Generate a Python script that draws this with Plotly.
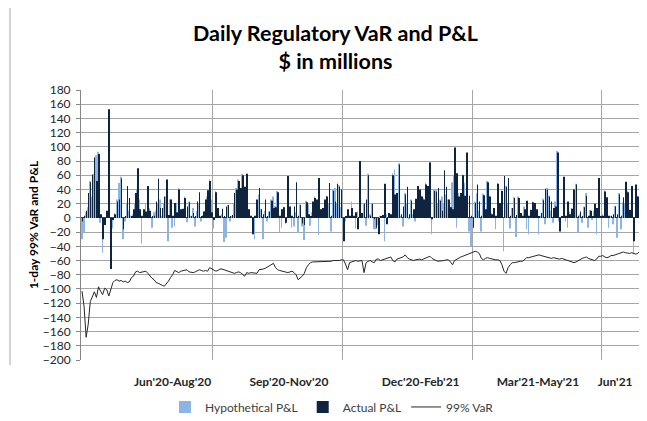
import plotly.graph_objects as go

# Daily values ($ millions), one entry per trading day
hypothetical_pl = [
    -30, -20, 8, 15, 52, 30, 62, 88, 93, -7,
    -49, -5, 10, 89, -8, -15, 7, 26, 49, 58,
    -30, -5, 20, 10, 3, 5, 20, 40, 26, -36,
    5, 21, 45, 14, -14, 8, 10, 20, 26, 3,
    20, 30, -33, 26, -14, -12, 21, 42, 5, 3,
    30, -6, 23, 3, 14, -12, 10, 20, -5, 4,
    10, 30, 54, 26, -15, 38, 5, 2, 5, -34,
    -28, 18, -5, 3, 20, 42, 54, 30, 62, 30,
    40, 12, 2, -10, -30, 20, 33, 12, -30, 10,
    -5, 9, 26, 30, 17, 38, -21, -14, 16, -9,
    10, 5, -14, -12, 8, -21, 19, -12, -31, 24,
    19, -11, 8, 30, 10, -24, 12, 5, 10, 31,
    20, -19, 40, 42, 20, 46, 15, -7, -5, 3,
    2, 23, 2, -15, 9, 10, 3, 21, -11, 62,
    5, 21, -16, -16, -10, 3, 2, -33, 5, 7,
    3, 63, 68, 20, 77, 3, -12, 35, 20, -2,
    26, 5, -5, 23, 20, 31, 28, 49, 20, 80,
    -23, 40, 39, 20, 26, 30, 20, 33, 26, 16,
    50, 60, -14, 35, 30, 61, 49, 40, -19, -40,
    -5, 23, 35, 10, -19, 34, 5, 52, 31, 7,
    8, -16, 49, 10, 40, -47, 45, 20, -15, 14,
    29, -27, 30, 3, 2, 16, -16, -23, 12, 23,
    10, 5, -23, 3, 27, -9, 42, 31, 10, -7,
    23, 94, -5, 3, 20, -5, -14, 9, 14, 41,
    48, -21, 5, -7, 16, 35, -14, 11, -3, 10,
    -23, 20, 3, 5, 39, 15, -14, 2, -9, 17,
    -28, 35, -16, 22, 20, 38, 12, 20, -50, 20,
    31, -12, -11, 26,
]

actual_pl = [
    -5, 3, 10, 35, 50, 61, 85, 52, 90, 5,
    -30, -10, 10, 153, -72, -3, 5, 23, 26, 55,
    -16, 2, 45, 28, 2, 12, 35, 70, 12, 3,
    12, 9, 45, 10, 2, 3, 23, 55, 14, 14,
    30, 54, 4, 26, 3, 21, 8, 40, 12, 13,
    28, 16, 22, 2, 7, 2, 23, 36, 2, 9,
    26, 39, 52, 8, -3, 36, 14, 3, 13, 2,
    16, 18, 2, 4, 35, 40, 52, 42, 60, 44,
    62, 12, 3, -23, 3, 26, 42, 12, 5, 26,
    2, 9, 24, 14, 15, 36, 3, 12, 15, -7,
    59, 16, 3, 16, 50, 3, 18, -8, -10, 22,
    5, 2, 23, 28, 26, 56, 12, 14, 26, 30,
    49, 3, 38, 23, 48, 44, 40, -33, 2, 12,
    3, 14, 3, 8, -16, 80, 7, 20, 26, 60,
    3, 20, -2, -14, -23, 2, 4, 48, -9, 7,
    5, 60, 33, 35, 75, 5, 16, 33, 44, 5,
    24, 12, 27, 45, 40, 30, 26, 47, 45, 78,
    -2, 38, 37, 42, 24, 10, 67, 44, 26, 15,
    12, 99, 63, 30, 35, 60, 31, 92, 31, 3,
    -14, 21, 47, 23, 3, 32, 12, 50, 30, 5,
    14, 3, 48, 21, 38, 59, 44, 56, 3, 14,
    28, 4, 28, 7, 3, 12, 24, 3, 11, 22,
    21, 12, 2, 7, 25, 41, 40, 30, 23, 14,
    16, 92, -19, 2, 58, 3, 23, 5, 13, 40,
    47, 3, 9, 2, 15, 31, 3, 10, 2, 20,
    14, 56, 2, 3, 37, 29, 3, 3, 5, 16,
    5, 33, 3, 29, 51, 36, 11, 45, -33, 47,
    30, 21, 3, 26,
]

var_99 = [
    -103, -125, -168, -150, -118, -110, -104, -112, -97, -103,
    -108, -99, -101, -110, -101, -91, -88, -87, -89, -88,
    -90, -89, -91, -90, -84, -82, -76, -75, -77, -76,
    -75, -75, -78, -82, -85, -87, -91, -92, -94, -95,
    -96, -93, -89, -84, -80, -74, -75, -77, -75, -74,
    -73, -73, -76, -77, -77, -76, -75, -73, -74, -75,
    -74, -75, -70, -72, -73, -75, -74, -72, -72, -73,
    -74, -75, -76, -77, -78, -77, -76, -77, -79, -82,
    -77, -78, -77, -77, -78, -78, -73, -73, -72, -71,
    -69, -68, -66, -64, -70, -73, -74, -75, -76, -77,
    -77, -76, -75, -77, -80, -87, -85, -82, -78, -70,
    -66, -63, -62, -62, -61, -62, -61, -62, -62, -61,
    -61, -61, -60, -60, -61, -60, -59, -59, -65, -73,
    -63, -62, -60, -60, -61, -60, -60, -77, -63, -61,
    -60, -62, -63, -58, -58, -60, -59, -57, -56, -55,
    -55, -60, -62, -58, -57, -56, -55, -52, -56, -58,
    -59, -60, -59, -58, -58, -59, -58, -56, -55, -54,
    -57, -59, -60, -61, -61, -60, -60, -59, -59, -62,
    -66, -60, -58, -56, -55, -54, -53, -52, -51, -49,
    -48, -47, -48, -50, -57, -59, -57, -56, -57, -58,
    -58, -59, -59, -60, -66, -75, -78, -70, -66, -63,
    -63, -62, -62, -61, -61, -58, -56, -56, -55, -55,
    -54, -53, -52, -53, -54, -55, -56, -56, -57, -56,
    -57, -57, -58, -57, -58, -60, -61, -62, -62, -63,
    -62, -60, -59, -57, -56, -55, -57, -58, -59, -60,
    -58, -54, -54, -53, -55, -56, -55, -53, -53, -52,
    -52, -51, -50, -48, -49, -50, -50, -49, -50, -51,
    -50, -47, -46, -45,
]

period_labels = ["Jun'20-Aug'20", "Sep'20-Nov'20", "Dec'20-Feb'21", "Mar'21-May'21", "Jun'21"]
period_label_days = [44, 100.5, 164.5, 221.5, 259]
period_boundary_days = [63.5, 126.5, 189.5, 252.5]
y_ticks = list(range(-200, 181, 20))
title_text = "Daily Regulatory VaR and P&L<br>$ in millions"

days = list(range(len(hypothetical_pl)))
FONT = "Lato"
GRID = "#a6a6a6"

fig = go.Figure()
fig.add_trace(go.Bar(x=days, y=hypothetical_pl, name="Hypothetical P&L",
                     marker=dict(color="#8db4e2", line=dict(width=0))))
fig.add_trace(go.Bar(x=days, y=actual_pl, name="Actual P&L",
                     marker=dict(color="#0f243e", line=dict(width=0))))
fig.add_trace(go.Scatter(x=days, y=var_99, name="99% VaR", mode="lines",
                         xaxis="x2", line=dict(color="#262626", width=1)))

fig.add_annotation(text="<b>" + title_text + "</b>", xref="paper", yref="paper",
                   x=0.4504, y=1.158, xanchor="center", yanchor="middle",
                   showarrow=False, align="center",
                   font=dict(family=FONT, size=21.5, color="#000000"))

# thin frame line at the left edge of the page
fig.add_shape(type="line", xref="paper", yref="paper",
              x0=-0.1259, x1=-0.1259, y0=-0.0185, y1=1.31,
              line=dict(color="#a6a6a6", width=1))

xr = [-0.5, len(days) - 0.5]
fig.update_layout(
    width=639, height=413,
    template="none",
    paper_bgcolor="white", plot_bgcolor="white",
    margin=dict(l=73, r=2, t=82, b=61, autoexpand=False),
    barmode="group", bargap=0.4, bargroupgap=0,
    font=dict(family=FONT, size=12, color="#262626"),
    xaxis=dict(range=xr, tickvals=period_boundary_days, showticklabels=False,
               showgrid=True, gridcolor=GRID, gridwidth=1, ticks="",
               zeroline=False, showline=False, automargin=False),
    xaxis2=dict(range=xr, overlaying="x", anchor="y", side="bottom",
                tickvals=period_label_days, ticktext=period_labels,
                showgrid=False, zeroline=False, showline=False, ticks="",
                ticklabelstandoff=13, automargin=False,
                tickfont=dict(family=FONT, size=12, color="#262626", weight="bold")),
    yaxis=dict(range=[-200, 180], tickvals=y_ticks, showgrid=True,
               gridcolor=GRID, gridwidth=1, automargin=False,
               zeroline=True, zerolinecolor="#404040", zerolinewidth=1,
               showline=True, linecolor="#868686", linewidth=1,
               ticks="outside", ticklen=4, tickcolor="#868686",
               ticklabelstandoff=3,
               tickfont=dict(family=FONT, size=12, color="#262626"),
               title=dict(text="<b>1-day 99% VaR and P&L</b>", standoff=1,
                          font=dict(family=FONT, size=12, color="#000000"))),
    legend=dict(orientation="h", x=0.445, xanchor="center",
                y=0.034, yref="container", yanchor="middle",
                font=dict(family=FONT, size=12, color="#404040"),
                traceorder="normal", itemwidth=30, bgcolor="rgba(0,0,0,0)"),
    showlegend=True,
)

fig.write_html("out.html")
